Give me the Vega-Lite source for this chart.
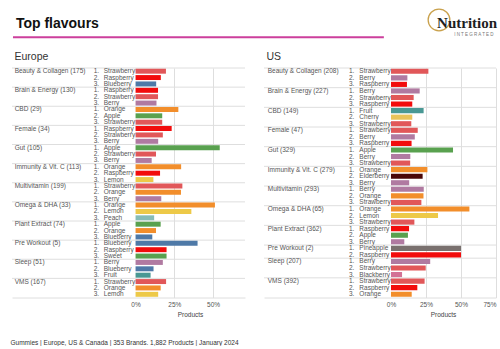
{
  "$schema": "https://vega.github.io/schema/vega-lite/v6.json",
  "background": "white",
  "padding": {"left": 10, "top": 0, "right": 0, "bottom": 0},
  "config": {
    "font": "Liberation Sans",
    "view": {"stroke": null},
    "axis": {"labelFont": "Liberation Sans", "titleFont": "Liberation Sans"}
  },
  "datasets": {
    "flavours": [
      {"region": "Europe", "segment": "Beauty & Collagen (175)", "rank": 1, "flavour": "Strawberry", "share": 0.196},
      {"region": "Europe", "segment": "Beauty & Collagen (175)", "rank": 2, "flavour": "Raspberry", "share": 0.163},
      {"region": "Europe", "segment": "Beauty & Collagen (175)", "rank": 3, "flavour": "Blueberry", "share": 0.133},
      {"region": "Europe", "segment": "Brain & Energy (130)", "rank": 1, "flavour": "Raspberry", "share": 0.145},
      {"region": "Europe", "segment": "Brain & Energy (130)", "rank": 2, "flavour": "Strawberry", "share": 0.145},
      {"region": "Europe", "segment": "Brain & Energy (130)", "rank": 3, "flavour": "Berry", "share": 0.135},
      {"region": "Europe", "segment": "CBD (29)", "rank": 1, "flavour": "Orange", "share": 0.276},
      {"region": "Europe", "segment": "CBD (29)", "rank": 2, "flavour": "Apple", "share": 0.172},
      {"region": "Europe", "segment": "CBD (29)", "rank": 3, "flavour": "Strawberry", "share": 0.172},
      {"region": "Europe", "segment": "Female (34)", "rank": 1, "flavour": "Raspberry", "share": 0.233},
      {"region": "Europe", "segment": "Female (34)", "rank": 2, "flavour": "Strawberry", "share": 0.176},
      {"region": "Europe", "segment": "Female (34)", "rank": 3, "flavour": "Berry", "share": 0.146},
      {"region": "Europe", "segment": "Gut (105)", "rank": 1, "flavour": "Apple", "share": 0.543},
      {"region": "Europe", "segment": "Gut (105)", "rank": 2, "flavour": "Strawberry", "share": 0.132},
      {"region": "Europe", "segment": "Gut (105)", "rank": 3, "flavour": "Berry", "share": 0.104},
      {"region": "Europe", "segment": "Immunity & Vit. C (113)", "rank": 1, "flavour": "Orange", "share": 0.294},
      {"region": "Europe", "segment": "Immunity & Vit. C (113)", "rank": 2, "flavour": "Raspberry", "share": 0.158},
      {"region": "Europe", "segment": "Immunity & Vit. C (113)", "rank": 3, "flavour": "Lemon", "share": 0.115},
      {"region": "Europe", "segment": "Multivitamin (199)", "rank": 1, "flavour": "Strawberry", "share": 0.302},
      {"region": "Europe", "segment": "Multivitamin (199)", "rank": 2, "flavour": "Orange", "share": 0.293},
      {"region": "Europe", "segment": "Multivitamin (199)", "rank": 3, "flavour": "Berry", "share": 0.166},
      {"region": "Europe", "segment": "Omega & DHA (33)", "rank": 1, "flavour": "Orange", "share": 0.512},
      {"region": "Europe", "segment": "Omega & DHA (33)", "rank": 2, "flavour": "Lemon", "share": 0.36},
      {"region": "Europe", "segment": "Omega & DHA (33)", "rank": 3, "flavour": "Peach", "share": 0.12},
      {"region": "Europe", "segment": "Plant Extract (74)", "rank": 1, "flavour": "Apple", "share": 0.162},
      {"region": "Europe", "segment": "Plant Extract (74)", "rank": 2, "flavour": "Orange", "share": 0.132},
      {"region": "Europe", "segment": "Plant Extract (74)", "rank": 3, "flavour": "Blueberry", "share": 0.108},
      {"region": "Europe", "segment": "Pre Workout (5)", "rank": 1, "flavour": "Blueberry", "share": 0.4},
      {"region": "Europe", "segment": "Pre Workout (5)", "rank": 2, "flavour": "Raspberry", "share": 0.2},
      {"region": "Europe", "segment": "Pre Workout (5)", "rank": 3, "flavour": "Sweet", "share": 0.2},
      {"region": "Europe", "segment": "Sleep (51)", "rank": 1, "flavour": "Berry", "share": 0.176},
      {"region": "Europe", "segment": "Sleep (51)", "rank": 2, "flavour": "Blueberry", "share": 0.116},
      {"region": "Europe", "segment": "Sleep (51)", "rank": 3, "flavour": "Fruit", "share": 0.097},
      {"region": "Europe", "segment": "VMS (167)", "rank": 1, "flavour": "Strawberry", "share": 0.197},
      {"region": "Europe", "segment": "VMS (167)", "rank": 2, "flavour": "Orange", "share": 0.162},
      {"region": "Europe", "segment": "VMS (167)", "rank": 3, "flavour": "Lemon", "share": 0.146},
      {"region": "US", "segment": "Beauty & Collagen (208)", "rank": 1, "flavour": "Strawberry", "share": 0.267},
      {"region": "US", "segment": "Beauty & Collagen (208)", "rank": 2, "flavour": "Berry", "share": 0.117},
      {"region": "US", "segment": "Beauty & Collagen (208)", "rank": 3, "flavour": "Raspberry", "share": 0.114},
      {"region": "US", "segment": "Brain & Energy (227)", "rank": 1, "flavour": "Berry", "share": 0.205},
      {"region": "US", "segment": "Brain & Energy (227)", "rank": 2, "flavour": "Strawberry", "share": 0.162},
      {"region": "US", "segment": "Brain & Energy (227)", "rank": 3, "flavour": "Raspberry", "share": 0.152},
      {"region": "US", "segment": "CBD (149)", "rank": 1, "flavour": "Fruit", "share": 0.233},
      {"region": "US", "segment": "CBD (149)", "rank": 2, "flavour": "Cherry", "share": 0.152},
      {"region": "US", "segment": "CBD (149)", "rank": 3, "flavour": "Strawberry", "share": 0.145},
      {"region": "US", "segment": "Female (47)", "rank": 1, "flavour": "Strawberry", "share": 0.191},
      {"region": "US", "segment": "Female (47)", "rank": 2, "flavour": "Berry", "share": 0.17},
      {"region": "US", "segment": "Female (47)", "rank": 3, "flavour": "Raspberry", "share": 0.147},
      {"region": "US", "segment": "Gut (329)", "rank": 1, "flavour": "Apple", "share": 0.443},
      {"region": "US", "segment": "Gut (329)", "rank": 2, "flavour": "Berry", "share": 0.138},
      {"region": "US", "segment": "Gut (329)", "rank": 3, "flavour": "Strawberry", "share": 0.137},
      {"region": "US", "segment": "Immunity & Vit. C (279)", "rank": 1, "flavour": "Orange", "share": 0.26},
      {"region": "US", "segment": "Immunity & Vit. C (279)", "rank": 2, "flavour": "Elderberry", "share": 0.226},
      {"region": "US", "segment": "Immunity & Vit. C (279)", "rank": 3, "flavour": "Berry", "share": 0.13},
      {"region": "US", "segment": "Multivitamin (293)", "rank": 1, "flavour": "Berry", "share": 0.234},
      {"region": "US", "segment": "Multivitamin (293)", "rank": 2, "flavour": "Orange", "share": 0.232},
      {"region": "US", "segment": "Multivitamin (293)", "rank": 3, "flavour": "Strawberry", "share": 0.217},
      {"region": "US", "segment": "Omega & DHA (65)", "rank": 1, "flavour": "Orange", "share": 0.56},
      {"region": "US", "segment": "Omega & DHA (65)", "rank": 2, "flavour": "Lemon", "share": 0.336},
      {"region": "US", "segment": "Omega & DHA (65)", "rank": 3, "flavour": "Strawberry", "share": 0.167},
      {"region": "US", "segment": "Plant Extract (362)", "rank": 1, "flavour": "Raspberry", "share": 0.129},
      {"region": "US", "segment": "Plant Extract (362)", "rank": 2, "flavour": "Apple", "share": 0.121},
      {"region": "US", "segment": "Plant Extract (362)", "rank": 3, "flavour": "Berry", "share": 0.095},
      {"region": "US", "segment": "Pre Workout (2)", "rank": 1, "flavour": "Pineapple", "share": 0.5},
      {"region": "US", "segment": "Pre Workout (2)", "rank": 2, "flavour": "Raspberry", "share": 0.5},
      {"region": "US", "segment": "Sleep (207)", "rank": 1, "flavour": "Berry", "share": 0.28},
      {"region": "US", "segment": "Sleep (207)", "rank": 2, "flavour": "Strawberry", "share": 0.248},
      {"region": "US", "segment": "Sleep (207)", "rank": 3, "flavour": "Blackberry", "share": 0.079},
      {"region": "US", "segment": "VMS (392)", "rank": 1, "flavour": "Strawberry", "share": 0.24},
      {"region": "US", "segment": "VMS (392)", "rank": 2, "flavour": "Raspberry", "share": 0.188},
      {"region": "US", "segment": "VMS (392)", "rank": 3, "flavour": "Orange", "share": 0.148}
    ]
  },
  "vconcat": [
    {
      "width": 488,
      "height": 38,
      "data": {"values": [{}]},
      "layer": [
        {
          "mark": {"type": "rule", "stroke": "#cc3f9c", "strokeWidth": 2},
          "encoding": {
            "x": {"datum": 0.002, "type": "quantitative", "scale": {"domain": [0, 1]}, "axis": null},
            "x2": {"datum": 0.762},
            "y": {"datum": 0.02, "type": "quantitative", "scale": {"domain": [0, 1]}, "axis": null}
          }
        },
        {
          "mark": {"type": "text", "text": "Top flavours", "fontSize": 14, "fontWeight": "bold", "color": "#111", "align": "left", "baseline": "alphabetic"},
          "encoding": {
            "x": {"datum": 0.008, "type": "quantitative"},
            "y": {"datum": 0.263, "type": "quantitative"}
          }
        },
        {
          "mark": {"type": "point", "shape": "circle", "size": 470, "filled": false, "stroke": "#c9a14c", "strokeWidth": 1.3, "opacity": 1},
          "encoding": {
            "x": {"datum": 0.875, "type": "quantitative"},
            "y": {"datum": 0.474, "type": "quantitative"}
          }
        },
        {
          "mark": {"type": "text", "text": "Nutrition", "font": "Liberation Serif", "fontSize": 15, "fontWeight": "bold", "color": "#1e1e1e", "align": "left", "baseline": "alphabetic"},
          "encoding": {
            "x": {"datum": 0.871, "type": "quantitative"},
            "y": {"datum": 0.263, "type": "quantitative"}
          }
        },
        {
          "mark": {"type": "text", "text": "I N T E G R A T E D", "fontSize": 4.5, "color": "#777", "align": "left", "baseline": "middle"},
          "encoding": {
            "x": {"datum": 0.906, "type": "quantitative"},
            "y": {"datum": 0.09, "type": "quantitative"}
          }
        }
      ]
    },
    {
      "title": {"text": "Gummies | Europe, US & Canada | 353 Brands. 1,882 Products | January 2024", "orient": "bottom", "anchor": "start", "fontSize": 6.5, "fontWeight": "normal", "color": "#333", "offset": 22, "dx": -1},
      "spacing": 17,
      "hconcat": [
        {
          "width": 233,
          "height": 229.5,
          "title": {"text": "Europe", "anchor": "start", "fontSize": 10.5, "fontWeight": "normal", "color": "#333", "offset": 5, "dx": 3},
          "data": {"name": "flavours"},
          "transform": [
            {"filter": "datum.region == 'Europe'"},
            {"calculate": "datum.segment + '|' + datum.rank", "as": "key"},
            {"calculate": "datum.rank + '.'", "as": "rankLabel"}
          ],
          "encoding": {
            "y": {"field": "key", "type": "nominal", "sort": null, "axis": null, "scale": {"paddingInner": 0, "paddingOuter": 0}}
          },
          "layer": [
            {
              "mark": {"type": "rule", "stroke": "#dedede", "strokeWidth": 1},
              "encoding": {
                "y": {"field": "key", "type": "nominal", "sort": null, "bandPosition": 0},
                "strokeOpacity": {"condition": {"test": "datum.rank == 1", "value": 1}, "value": 0}
              }
            },
            {
              "mark": {"type": "bar", "height": {"band": 0.78}},
              "encoding": {
                "x": {"field": "share", "type": "quantitative", "scale": {"domain": [-0.797, 0.706], "nice": false, "zero": false},
                  "axis": {"values": [0, 0.25, 0.5], "format": ".0%", "title": "Products", "titleX": 178, "titleFontSize": 6.5, "titleFontWeight": "normal", "titleColor": "#444", "titlePadding": 3,
                    "labelFontSize": 6.5, "labelColor": "#555", "labelPadding": 4, "ticks": false, "domain": true, "domainColor": "#dedede",
                    "grid": true, "gridColor": "#dedede", "gridOpacity": {"condition": {"test": "datum.value == 0", "value": 0}, "value": 1}}},
                "color": {"field": "flavour", "type": "nominal", "legend": null,
                  "scale": {"domain": ["Strawberry", "Raspberry", "Blueberry", "Berry", "Orange", "Apple", "Lemon", "Peach", "Sweet", "Fruit", "Cherry", "Elderberry", "Pineapple", "Blackberry"],
                    "range": ["#e15759", "#f20c0c", "#4e79a7", "#b07aa1", "#f28e2b", "#59a14f", "#edc948", "#86bcb6", "#59a14f", "#499894", "#e8c35a", "#4a0707", "#79706e", "#d37295"]}}
              }
            },
            {
              "mark": {"type": "text", "align": "left", "baseline": "middle", "fontSize": 6.5, "color": "#555"},
              "encoding": {
                "x": {"datum": -0.78, "type": "quantitative"},
                "text": {"condition": {"test": "datum.rank == 1", "field": "segment"}, "value": ""}
              }
            },
            {
              "mark": {"type": "text", "align": "left", "baseline": "middle", "fontSize": 6.5, "color": "#555"},
              "encoding": {
                "x": {"datum": -0.27, "type": "quantitative"},
                "text": {"field": "rankLabel"}
              }
            },
            {
              "mark": {"type": "text", "align": "left", "baseline": "middle", "fontSize": 6.5, "color": "#555"},
              "encoding": {
                "x": {"datum": -0.205, "type": "quantitative"},
                "text": {"field": "flavour"}
              }
            }
          ]
        },
        {
          "width": 232,
          "height": 229.5,
          "title": {"text": "US", "anchor": "start", "fontSize": 10.5, "fontWeight": "normal", "color": "#333", "offset": 5, "dx": 3},
          "data": {"name": "flavours"},
          "transform": [
            {"filter": "datum.region == 'US'"},
            {"calculate": "datum.segment + '|' + datum.rank", "as": "key"},
            {"calculate": "datum.rank + '.'", "as": "rankLabel"}
          ],
          "encoding": {
            "y": {"field": "key", "type": "nominal", "sort": null, "axis": null, "scale": {"paddingInner": 0, "paddingOuter": 0}}
          },
          "layer": [
            {
              "mark": {"type": "rule", "stroke": "#dedede", "strokeWidth": 1},
              "encoding": {
                "y": {"field": "key", "type": "nominal", "sort": null, "bandPosition": 0},
                "strokeOpacity": {"condition": {"test": "datum.rank == 1", "value": 1}, "value": 0}
              }
            },
            {
              "mark": {"type": "bar", "height": {"band": 0.78}},
              "encoding": {
                "x": {"field": "share", "type": "quantitative", "scale": {"domain": [-0.907, 0.75], "nice": false, "zero": false},
                  "axis": {"values": [0, 0.25, 0.5, 0.75], "format": ".0%", "title": "Products", "titleX": 179, "titleFontSize": 6.5, "titleFontWeight": "normal", "titleColor": "#444", "titlePadding": 3,
                    "labelFontSize": 6.5, "labelColor": "#555", "labelPadding": 4, "ticks": false, "domain": true, "domainColor": "#dedede",
                    "grid": true, "gridColor": "#dedede", "gridOpacity": {"condition": {"test": "datum.value == 0", "value": 0}, "value": 1}}},
                "color": {"field": "flavour", "type": "nominal", "legend": null,
                  "scale": {"domain": ["Strawberry", "Raspberry", "Blueberry", "Berry", "Orange", "Apple", "Lemon", "Peach", "Sweet", "Fruit", "Cherry", "Elderberry", "Pineapple", "Blackberry"],
                    "range": ["#e15759", "#f20c0c", "#4e79a7", "#b07aa1", "#f28e2b", "#59a14f", "#edc948", "#86bcb6", "#59a14f", "#499894", "#e8c35a", "#4a0707", "#79706e", "#d37295"]}}
              }
            },
            {
              "mark": {"type": "text", "align": "left", "baseline": "middle", "fontSize": 6.5, "color": "#555"},
              "encoding": {
                "x": {"datum": -0.88, "type": "quantitative"},
                "text": {"condition": {"test": "datum.rank == 1", "field": "segment"}, "value": ""}
              }
            },
            {
              "mark": {"type": "text", "align": "left", "baseline": "middle", "fontSize": 6.5, "color": "#555"},
              "encoding": {
                "x": {"datum": -0.30, "type": "quantitative"},
                "text": {"field": "rankLabel"}
              }
            },
            {
              "mark": {"type": "text", "align": "left", "baseline": "middle", "fontSize": 6.5, "color": "#555"},
              "encoding": {
                "x": {"datum": -0.226, "type": "quantitative"},
                "text": {"field": "flavour"}
              }
            }
          ]
        }
      ]
    }
  ],
  "spacing": 13
}
